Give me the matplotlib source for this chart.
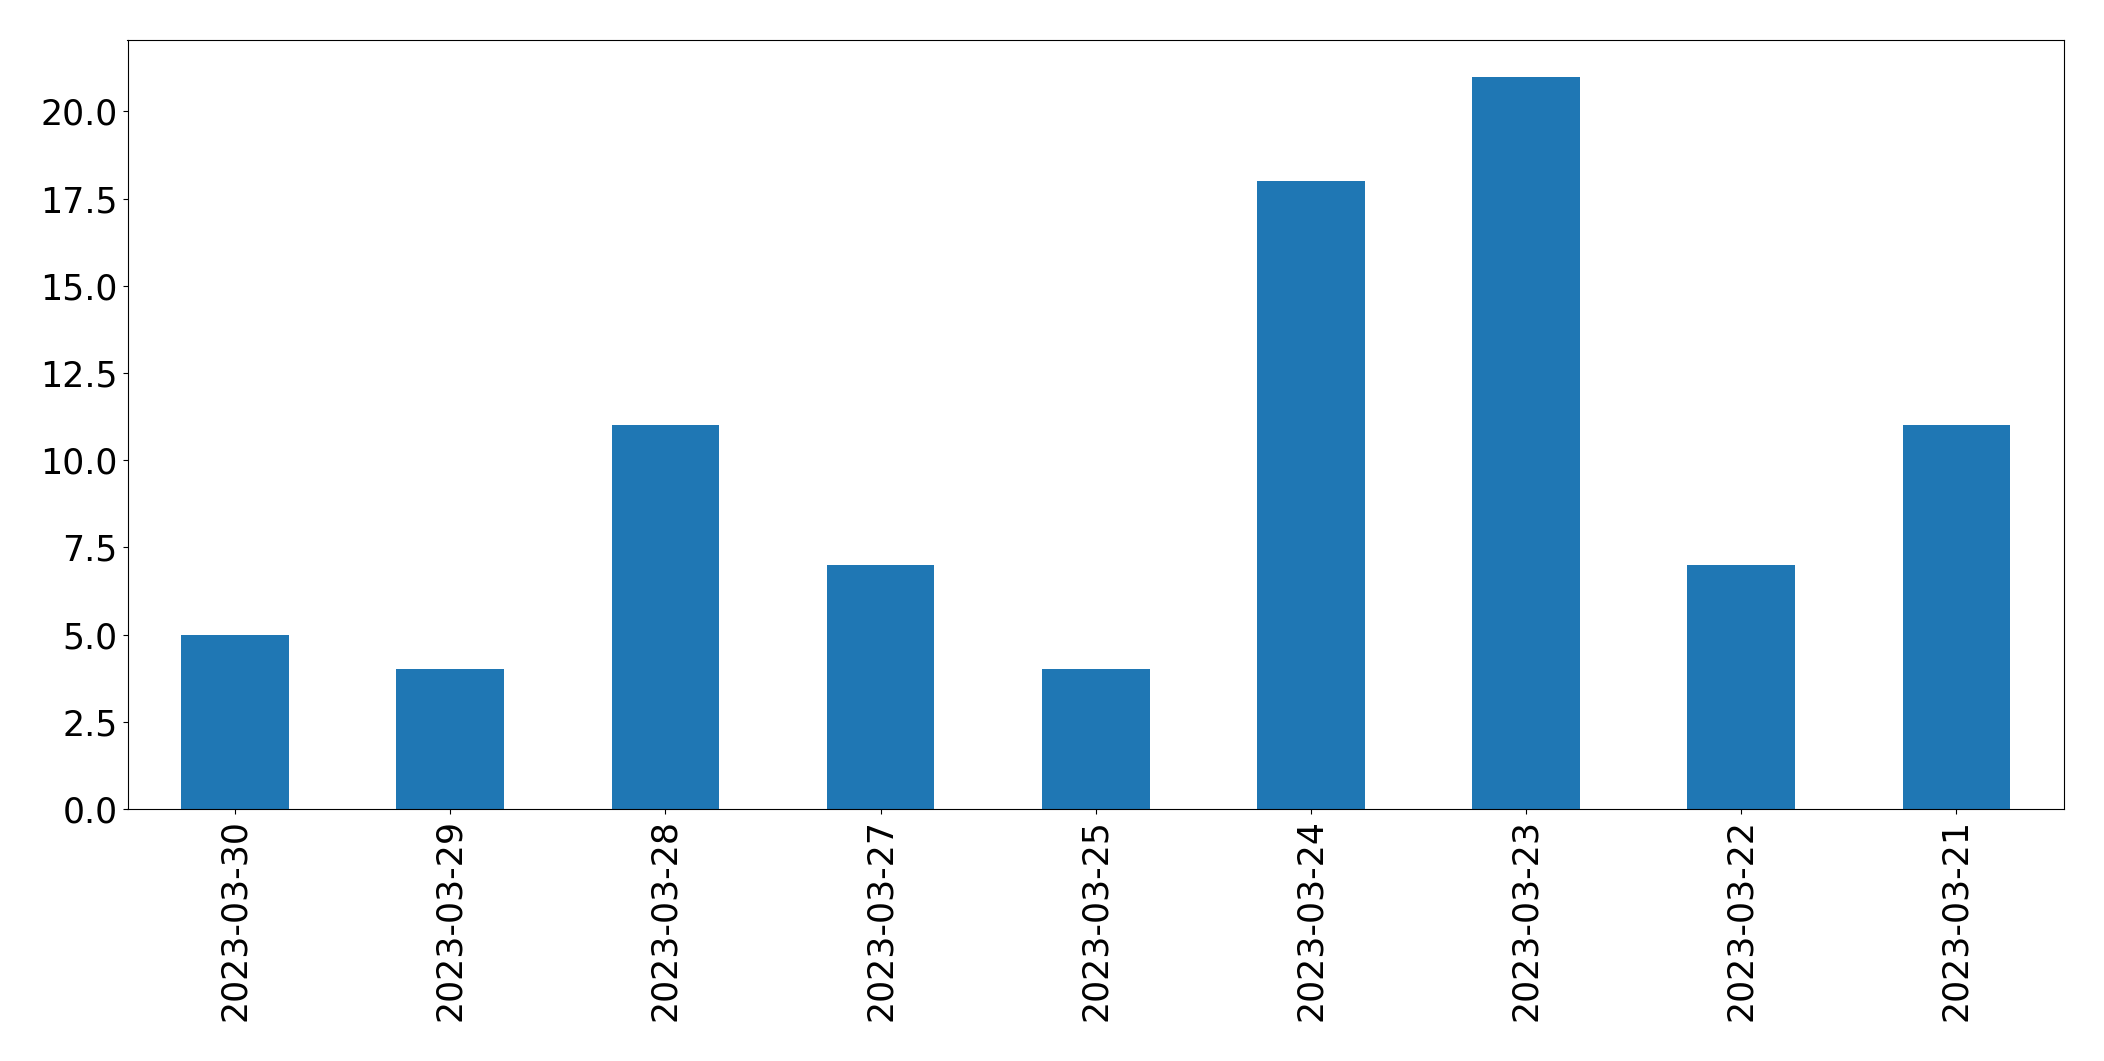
import pandas as pd
import matplotlib
matplotlib.use('Agg')
import matplotlib.pyplot as plt

dates = ['2023-03-30', '2023-03-29', '2023-03-28', '2023-03-27', '2023-03-25',
         '2023-03-24', '2023-03-23', '2023-03-22', '2023-03-21']
counts = [5, 4, 11, 7, 4, 18, 21, 7, 11]

s = pd.Series(counts, index=dates)

fig, ax = plt.subplots(figsize=(21.04, 10.61), dpi=100)
s.plot(kind='bar', ax=ax, color='#1f77b4', fontsize=25)
plt.subplots_adjust(left=127.5 / 2104, right=2064 / 2104, top=1 - 40 / 1061, bottom=1 - 809 / 1061)
fig.savefig('out.png', dpi=100)
